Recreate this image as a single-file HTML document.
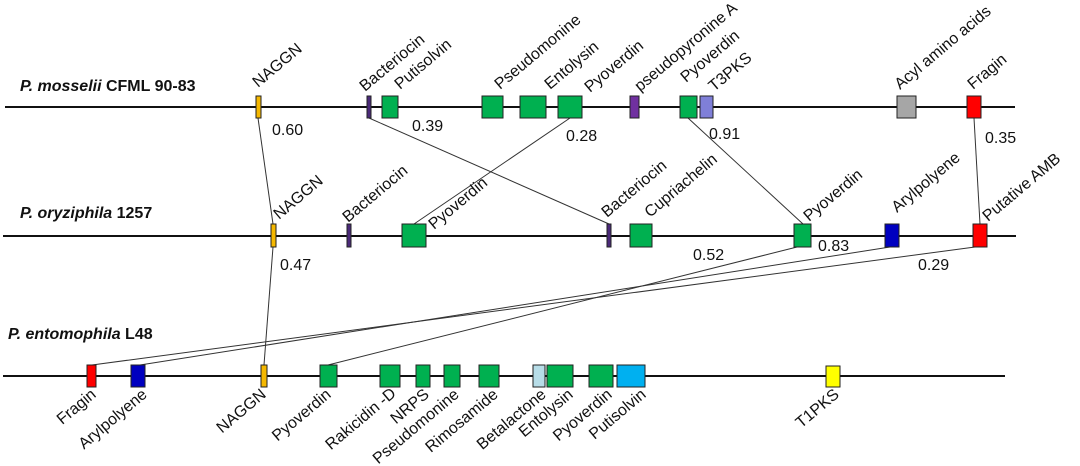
<!DOCTYPE html>
<html><head><meta charset="utf-8"><style>
html,body{margin:0;padding:0;background:#fff;}
svg{display:block;font-family:"Liberation Sans",Arial,sans-serif;}
.l{font-size:16px;fill:#111;}
.n{font-size:16px;fill:#111;}
.t{font-size:16px;font-weight:bold;fill:#111;}
.b{stroke:#222;stroke-width:1;}
</style></head><body>
<svg width="1080" height="466" viewBox="0 0 1080 466" xmlns="http://www.w3.org/2000/svg">
<text class="t" x="20" y="91"><tspan font-style="italic">P. mosselii</tspan> CFML 90-83</text>
<text class="t" x="20" y="218"><tspan font-style="italic">P. oryziphila</tspan> 1257</text>
<text class="t" x="8" y="339"><tspan font-style="italic">P. entomophila</tspan> L48</text>
<line x1="5" y1="107" x2="1015" y2="107" stroke="#111" stroke-width="2"/>
<line x1="3" y1="236" x2="1016" y2="236" stroke="#111" stroke-width="2"/>
<line x1="3" y1="376" x2="1005" y2="376" stroke="#111" stroke-width="2"/>
<g stroke="#333" stroke-width="1">
<line x1="258" y1="118" x2="273" y2="224"/>
<line x1="273" y1="247" x2="264" y2="365"/>
<line x1="369" y1="118" x2="609" y2="224"/>
<line x1="570" y1="118" x2="414" y2="224"/>
<line x1="688" y1="118" x2="803" y2="224"/>
<line x1="974" y1="118" x2="980" y2="224"/>
<line x1="797" y1="247" x2="328" y2="365"/>
<line x1="890" y1="247" x2="140" y2="365"/>
<line x1="975" y1="247" x2="92" y2="365"/>
</g>
<g class="b">
<rect x="256" y="96" width="5" height="22" fill="#f5b800"/>
<rect x="367" y="96" width="4" height="22" fill="#4b2a7a"/>
<rect x="382" y="96" width="16" height="22" fill="#00b050"/>
<rect x="482" y="96" width="21" height="22" fill="#00b050"/>
<rect x="520" y="96" width="26" height="22" fill="#00b050"/>
<rect x="558" y="96" width="24" height="22" fill="#00b050"/>
<rect x="630" y="96" width="9" height="22" fill="#7030a0"/>
<rect x="680" y="96" width="17" height="22" fill="#00b050"/>
<rect x="700" y="96" width="13" height="22" fill="#7f7fd8"/>
<rect x="897" y="96" width="19" height="22" fill="#a6a6a6"/>
<rect x="967" y="96" width="14" height="22" fill="#ff0000"/>
<rect x="271" y="224" width="5" height="23" fill="#f5b800"/>
<rect x="347" y="224" width="4" height="23" fill="#4b2a7a"/>
<rect x="402" y="224" width="24" height="23" fill="#00b050"/>
<rect x="607" y="224" width="4" height="23" fill="#4b2a7a"/>
<rect x="630" y="224" width="22" height="23" fill="#00b050"/>
<rect x="794" y="224" width="17" height="23" fill="#00b050"/>
<rect x="885" y="224" width="14" height="23" fill="#0000c0"/>
<rect x="973" y="224" width="14" height="23" fill="#ff0000"/>
<rect x="87" y="365" width="9" height="22" fill="#ff0000"/>
<rect x="131" y="365" width="14" height="22" fill="#0000c0"/>
<rect x="261" y="365" width="6" height="22" fill="#f5b800"/>
<rect x="320" y="365" width="17" height="22" fill="#00b050"/>
<rect x="380" y="365" width="20" height="22" fill="#00b050"/>
<rect x="416" y="365" width="14" height="22" fill="#00b050"/>
<rect x="444" y="365" width="16" height="22" fill="#00b050"/>
<rect x="479" y="365" width="20" height="22" fill="#00b050"/>
<rect x="533" y="365" width="12" height="22" fill="#b7dde8"/>
<rect x="547" y="365" width="26" height="22" fill="#00b050"/>
<rect x="589" y="365" width="24" height="22" fill="#00b050"/>
<rect x="617" y="365" width="28" height="22" fill="#00b0f0"/>
<rect x="826" y="366" width="14" height="21" fill="#ffff00"/>
</g>
<g class="n">
<text x="272" y="135">0.60</text>
<text x="412" y="131">0.39</text>
<text x="566" y="141">0.28</text>
<text x="709" y="139">0.91</text>
<text x="985" y="143">0.35</text>
<text x="280" y="270">0.47</text>
<text x="693" y="260">0.52</text>
<text x="818" y="251">0.83</text>
<text x="918" y="270">0.29</text>
</g>
<g class="l">
<text transform="translate(258,88) rotate(-40)">NAGGN</text>
<text transform="translate(365,92) rotate(-40)">Bacteriocin</text>
<text transform="translate(400,90) rotate(-40)">Putisolvin</text>
<text transform="translate(500,90) rotate(-40)">Pseudomonine</text>
<text transform="translate(550,90) rotate(-40)">Entolysin</text>
<text transform="translate(590,93) rotate(-40)">Pyoverdin</text>
<text transform="translate(640,92) rotate(-40)">pseudopyronine A</text>
<text transform="translate(686,83) rotate(-40)">Pyoverdin</text>
<text transform="translate(714,92) rotate(-40)">T3PKS</text>
<text transform="translate(900,90) rotate(-40)">Acyl amino acids</text>
<text transform="translate(973,90) rotate(-40)">Fragin</text>
<text transform="translate(279,220) rotate(-40)">NAGGN</text>
<text transform="translate(348,223) rotate(-40)">Bacteriocin</text>
<text transform="translate(434,230) rotate(-40)">Pyoverdin</text>
<text transform="translate(607,218) rotate(-40)">Bacteriocin</text>
<text transform="translate(650,218) rotate(-40)">Cupriachelin</text>
<text transform="translate(809,222) rotate(-40)">Pyoverdin</text>
<text transform="translate(897,213) rotate(-40)">Arylpolyene</text>
<text transform="translate(988,222) rotate(-40)">Putative AMB</text>
</g>
<g class="l" text-anchor="end">
<text transform="translate(97,396) rotate(-40)">Fragin</text>
<text transform="translate(148,396) rotate(-40)">Arylpolyene</text>
<text transform="translate(267,396) rotate(-40)">NAGGN</text>
<text transform="translate(332,396) rotate(-40)">Pyoverdin</text>
<text transform="translate(397,395) rotate(-40)">Rakicidin -D</text>
<text transform="translate(430,396) rotate(-40)">NRPS</text>
<text transform="translate(460,396) rotate(-40)">Pseudomonine</text>
<text transform="translate(499,396) rotate(-40)">Rimosamide</text>
<text transform="translate(547,396) rotate(-40)">Betalactone</text>
<text transform="translate(574,396) rotate(-40)">Entolysin</text>
<text transform="translate(613,396) rotate(-40)">Pyoverdin</text>
<text transform="translate(647,396) rotate(-40)">Putisolvin</text>
<text transform="translate(840,396) rotate(-40)">T1PKS</text>
</g>
</svg>
</body></html>
